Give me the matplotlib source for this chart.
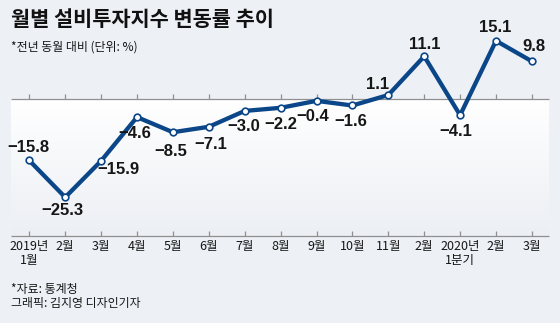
import matplotlib
matplotlib.use("Agg")
import matplotlib.pyplot as plt
import numpy as np
from matplotlib import font_manager
from matplotlib.transforms import blended_transform_factory

# ---- data -------------------------------------------------------------
months = ["2019년\n1월", "2월", "3월", "4월", "5월", "6월", "7월", "8월",
          "9월", "10월", "11월", "2월", "2020년\n1분기", "2월", "3월"]
change_pct = [-15.8, -25.3, -15.9, -4.6, -8.5, -7.1, -3.0, -2.2,
              -0.4, -1.6, 1.1, 11.1, -4.1, 15.1, 9.8]

title = "월별 설비투자지수 변동률 추이"
subtitle = "*전년 동월 대비 (단위: %)"
source = "*자료: 통계청"
credit = "그래픽: 김지영 디자인기자"

# label offsets from each point, in pixels (right, down)
label_offsets = [(-0.5, -13), (-3, 13), (17, 9), (-2, 16), (-2, 19),
                 (2, 17.5), (-1, 16), (0, 16.5), (-4, 15.3), (-2, 16),
                 (-11, -11), (1, -12), (-4, 16.5), (-1, -13), (2, -15)]

# ---- styling ----------------------------------------------------------
W, H, DPI = 560, 323, 100
BG = "#edf1f6"
BLUE = "#0b4689"
GRAY = "#8f8f8f"
TEXT = "#161616"
KR = ["Noto Sans CJK KR", "DejaVu Sans"]

names = {f.name for f in font_manager.fontManager.ttflist}
NUM_FONT = "Liberation Sans Narrow" if "Liberation Sans Narrow" in names else "Liberation Sans"

# pixel geometry: x index -> px, value -> px
X0_PX, DX_PX = 29.3, 35.9
ZERO_PX, PX_PER_UNIT = 99.3, 3.873
PANEL_LEFT_PX, PANEL_RIGHT_PX = 11, 549
PANEL_BOTTOM = -35.3

fig = plt.figure(figsize=(W / DPI, H / DPI), dpi=DPI, facecolor=BG)
ax = fig.add_axes([0, 0, 1, 1])
ax.set_facecolor(BG)
ax.axis("off")

xlim = (-X0_PX / DX_PX, (W - X0_PX) / DX_PX)
ylim = ((ZERO_PX - H) / PX_PER_UNIT, ZERO_PX / PX_PER_UNIT)

px2x = lambda px: (px - X0_PX) / DX_PX
panel_x0, panel_x1 = px2x(PANEL_LEFT_PX), px2x(PANEL_RIGHT_PX)

# gradient panel below the zero line
grad = np.linspace(0, 1, 256).reshape(-1, 1)
top_c = np.array([1.0, 1.0, 1.0])
bot_c = np.array([0xec, 0xef, 0xf4]) / 255
img = top_c + (bot_c - top_c) * grad[..., None]
img = np.repeat(img, 2, axis=1)
ax.imshow(img, extent=(panel_x0, panel_x1, PANEL_BOTTOM, 0),
          aspect="auto", origin="upper", zorder=0, interpolation="bilinear")

x = np.arange(len(change_pct))
tick_len = 5 / PX_PER_UNIT
ax.hlines([0, PANEL_BOTTOM], panel_x0, panel_x1, color=GRAY, lw=0.9, zorder=1)
ax.vlines(x, 0, tick_len, color=GRAY, lw=0.9, zorder=1)
ax.vlines(x, PANEL_BOTTOM, PANEL_BOTTOM + tick_len, color=GRAY, lw=0.9, zorder=1)

ax.plot(x, change_pct, color=BLUE, lw=3.1, solid_joinstyle="round",
        solid_capstyle="round", marker="o", ms=4.8, mfc="white",
        mec=BLUE, mew=1.2, zorder=3)

for xi, v, (dx, dy) in zip(x, change_pct, label_offsets):
    ax.annotate(f"{v:.1f}".replace("-", "\u2212"), (xi, v),
                xytext=(dx * 0.72, -dy * 0.72), textcoords="offset points",
                ha="center", va="center", fontsize=12, fontweight="bold",
                family=NUM_FONT, color=TEXT, zorder=4)

ax.set_xlim(*xlim)
ax.set_ylim(*ylim)

# month labels under the panel
tr = blended_transform_factory(ax.transData, fig.transFigure)
for xi, lab in zip(x, months):
    ax.text(xi, 1 - 240 / H, lab, transform=tr, ha="center", va="top",
            fontsize=9, family=KR, color=TEXT, linespacing=1.1)

fig.text(11 / W, 1 - 9 / H, title, ha="left", va="top", fontsize=15,
         fontweight="black", family=KR, color="#111111")
fig.text(11 / W, 1 - 41 / H, subtitle, ha="left", va="top", fontsize=8.6,
         family=KR, color=TEXT)
fig.text(11 / W, 1 - 283 / H, source, ha="left", va="top", fontsize=8.6,
         family=KR, color=TEXT)
fig.text(11 / W, 1 - 297 / H, credit, ha="left", va="top", fontsize=8.6,
         family=KR, color=TEXT)

fig.savefig("out.png", dpi=DPI, facecolor=BG)
